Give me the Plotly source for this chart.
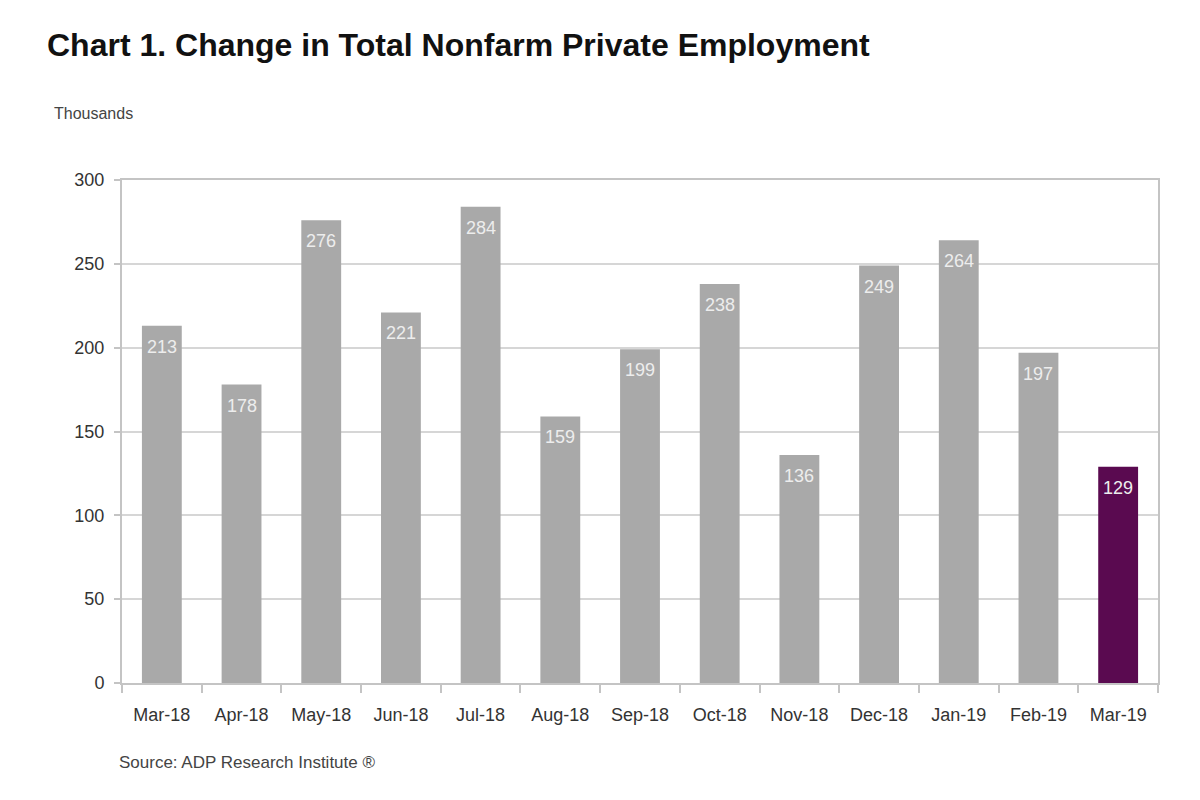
import plotly.graph_objects as go

months = ["Mar-18", "Apr-18", "May-18", "Jun-18", "Jul-18", "Aug-18", "Sep-18",
          "Oct-18", "Nov-18", "Dec-18", "Jan-19", "Feb-19", "Mar-19"]
values = [213, 178, 276, 221, 284, 159, 199, 238, 136, 249, 264, 197, 129]
bar_colors = ["#A9A9A9"] * 12 + ["#5A0A50"]
y_ticks = [0, 50, 100, 150, 200, 250, 300]

FONT = "Liberation Sans, Arial, sans-serif"

fig = go.Figure()
fig.add_trace(go.Bar(
    x=months, y=values,
    marker=dict(color=bar_colors, line=dict(width=0)),
    width=0.5,
    hoverinfo="x+y",
))

for m, v in zip(months, values):
    fig.add_annotation(
        x=m, y=v, xref="x", yref="y", text=str(v), showarrow=False,
        yanchor="middle", yshift=-21,
        font=dict(family=FONT, size=18, color="#EDEDED"),
    )

fig.update_layout(
    width=1192, height=792,
    margin=dict(l=114, r=42, t=172, b=117),
    paper_bgcolor="white", plot_bgcolor="white",
    showlegend=False,
    font=dict(family=FONT, color="#333333"),
)
fig.update_xaxes(
    type="category",
    showline=True, linecolor="#C4C4C4", linewidth=2, mirror=True,
    ticks="outside", tickson="boundaries", ticklen=8, tickcolor="#C4C4C4", tickwidth=2,
    tickfont=dict(size=18, color="#333333"),
    ticklabelstandoff=14,
    showgrid=False,
)
fig.update_yaxes(
    range=[0, 300], tickvals=y_ticks,
    showline=True, linecolor="#C4C4C4", linewidth=2, mirror=True,
    ticks="outside", ticklen=6, tickcolor="#C4C4C4", tickwidth=2,
    tickfont=dict(size=18, color="#333333"),
    ticklabelstandoff=6,
    showgrid=True, gridcolor="#D6D6D6", gridwidth=2,
    zeroline=False,
)

fig.add_annotation(
    text="<b>Chart 1. Change in Total Nonfarm Private Employment</b>",
    xref="paper", yref="paper", x=-0.0743, y=1.268, xanchor="left", yanchor="middle",
    showarrow=False, font=dict(family=FONT, size=32, color="#111111"),
)
fig.add_annotation(
    text="Thousands",
    xref="paper", yref="paper", x=-0.0676, y=1.133, xanchor="left", yanchor="middle",
    showarrow=False, font=dict(family=FONT, size=16, color="#444444"),
)
fig.add_annotation(
    text="Source: ADP Research Institute ®",
    xref="paper", yref="paper", x=-0.0048, y=-0.159, xanchor="left", yanchor="middle",
    showarrow=False, font=dict(family=FONT, size=17, color="#444444"),
)

fig.write_html("out.html")
